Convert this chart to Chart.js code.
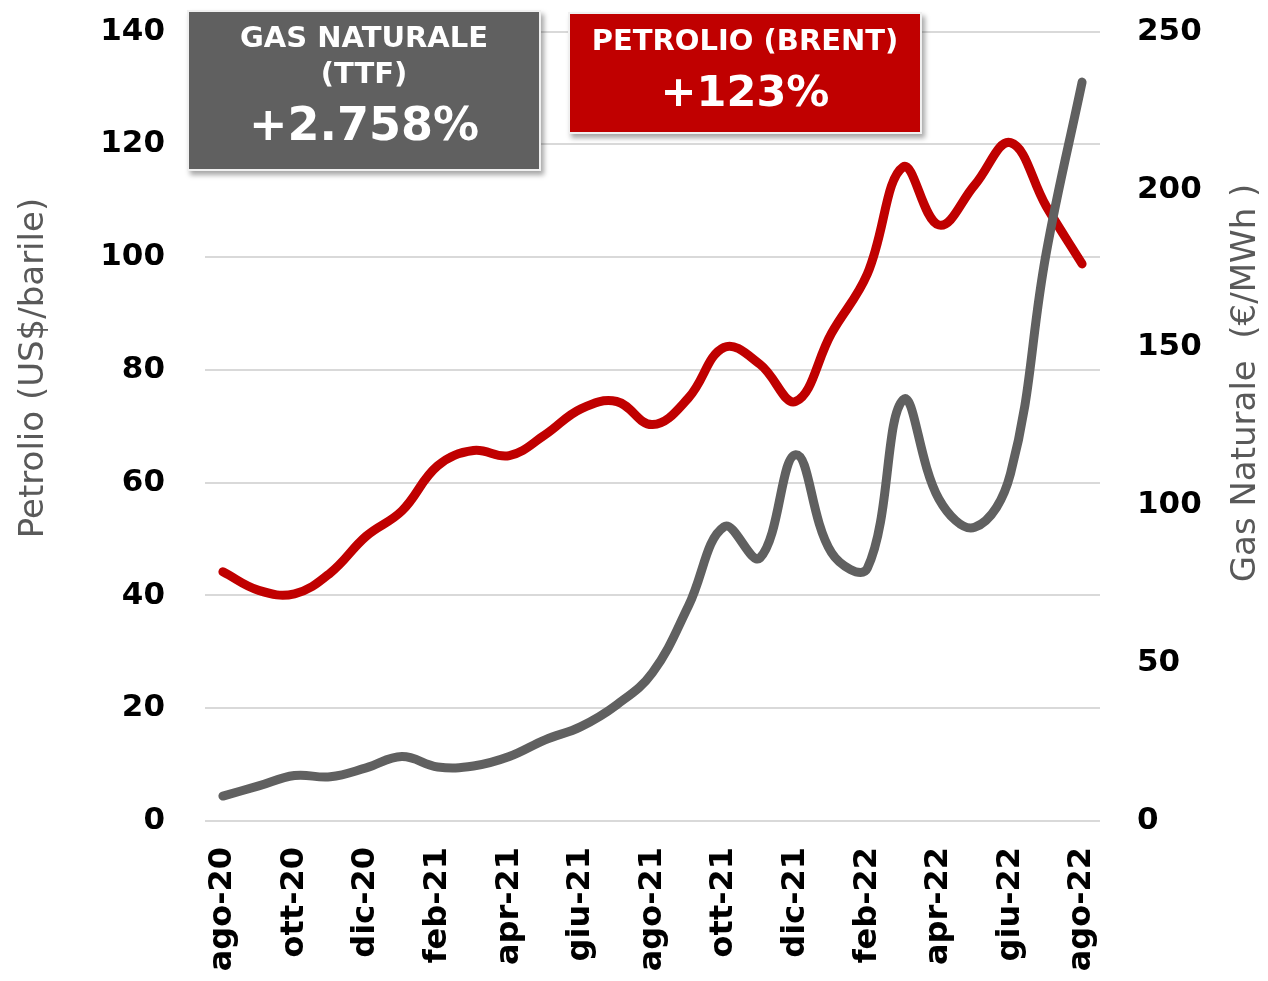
<!DOCTYPE html>
<html>
<head>
<meta charset="utf-8">
<script src="https://cdn.jsdelivr.net/npm/chart.js@4/dist/chart.umd.min.js"></script>
<style>
  html, body { margin: 0; padding: 0; background: #fff; }
  #wrap { position: relative; width: 1268px; height: 981px; }
  .box {
    position: absolute;
    color: #fff;
    font-family: "DejaVu Sans", sans-serif;
    font-weight: bold;
    text-align: center;
    box-shadow: 3px 4px 5px rgba(0,0,0,0.35);
    border: 2px solid #f0f0f0;
    box-sizing: border-box;
  }
  #gasBox { left: 187px; top: 10px; width: 354px; height: 161px; background: #606060; }
  #oilBox { left: 568px; top: 12px; width: 354px; height: 122px; background: #c00000; }
  .box .t { font-size: 29px; line-height: 36px; }
  .box .v { font-size: 46px; line-height: 54px; }
</style>
</head>
<body>
<div id="wrap">
  <canvas id="chart" width="1268" height="981"></canvas>
  <div class="box" id="gasBox">
    <div class="t" style="margin-top:7px">GAS NATURALE</div>
    <div class="t">(TTF)</div>
    <div class="v" style="margin-top:6px">+2.758%</div>
  </div>
  <div class="box" id="oilBox">
    <div class="t" style="margin-top:8px">PETROLIO (BRENT)</div>
    <div class="v" style="margin-top:6px; font-size:43px">+123%</div>
  </div>
</div>
<script>
// Months, ago-20 to ago-22
const months = ['ago-20', 'set-20', 'ott-20', 'nov-20', 'dic-20', 'gen-21', 'feb-21', 'mar-21', 'apr-21',
    'mag-21', 'giu-21', 'lug-21', 'ago-21', 'set-21', 'ott-21', 'nov-21', 'dic-21', 'gen-22', 'feb-22',
    'mar-22', 'apr-22', 'mag-22', 'giu-22', 'lug-22', 'ago-22'];

// Brent, US$/barile (left axis)
const brent = [44.2, 40.9, 40.3, 44.0, 50.5, 55.0, 63.0, 65.7, 64.8, 68.5, 73.1, 74.4, 70.3,
    75.0, 84.0, 81.0, 74.4, 86.5, 97.0, 116.0, 105.7, 112.8, 120.3, 109.0, 98.8];

// TTF, €/MWh (right axis)
const ttf = [7.9, 11.1, 14.4, 14.0, 16.8, 20.4, 17.1, 17.4, 20.4, 25.7, 29.9, 36.8, 47.0,
    68.0, 93.2, 83.3, 116.0, 85.0, 80.0, 133.4, 102.0, 93.0, 110.0, 180.0, 234.0];

const tickFont = { family: 'DejaVu Sans', size: 31, weight: 'bold' };

// axis titles, both reading bottom to top
const axisTitles = {
    id: 'axisTitles',
    afterDraw(chart) {
        const ctx = chart.ctx;
        const put = (text, x, y) => {
            ctx.save();
            ctx.fillStyle = '#595959';
            ctx.font = '34px "DejaVu Sans"';
            ctx.textAlign = 'center';
            ctx.textBaseline = 'middle';
            ctx.translate(x, y);
            ctx.rotate(-Math.PI / 2);
            ctx.fillText(text, 0, 0);
            ctx.restore();
        };
        put('Petrolio (US$/barile)', 34, 368);
        put('Gas Naturale  (€/MWh )', 1246, 383);
    }
};

new Chart(document.getElementById('chart').getContext('2d'), {
    type: 'line',
    data: {
        labels: months,
        datasets: [{
            label: 'Gas Naturale (TTF)',
            data: ttf,
            yAxisID: 'y2',
            borderColor: '#606060',
            borderWidth: 9,
            borderCapStyle: 'round',
            borderJoinStyle: 'round',
            pointRadius: 0,
            tension: 0.4,
            order: 1
        }, {
            label: 'Petrolio (Brent)',
            data: brent,
            yAxisID: 'y',
            borderColor: '#c00000',
            borderWidth: 9,
            borderCapStyle: 'round',
            borderJoinStyle: 'round',
            pointRadius: 0,
            tension: 0.4,
            order: 2
        }]
    },
    options: {
        responsive: false,
        animation: false,
        layout: { padding: 0 },
        plugins: {
            legend: { display: false },
            tooltip: { enabled: false }
        },
        scales: {
            x: {
                offset: true,
                grid: { display: false, drawTicks: false },
                border: { display: false },
                ticks: {
                    autoSkip: false,
                    maxRotation: 90,
                    minRotation: 90,
                    padding: 26,
                    color: '#000',
                    font: { family: 'DejaVu Sans', size: 32, weight: 'bold' },
                    callback: (v, i) => (i % 2 === 0 ? months[i] : '')
                },
                afterFit: (s) => { s.height = 160; }
            },
            y: {
                position: 'left',
                min: 0,
                max: 140,
                ticks: { stepSize: 20, padding: 13, color: '#000', font: tickFont },
                grid: { color: '#d9d9d9', lineWidth: 2, tickLength: 27, tickColor: 'rgba(0,0,0,0)' },
                border: { display: false },
                afterFit: (s) => { s.width = 205; }
            },
            y2: {
                position: 'right',
                min: 0,
                max: 250,
                ticks: { stepSize: 50, padding: 13, color: '#000', font: tickFont },
                grid: { drawOnChartArea: false, tickLength: 24, tickColor: 'rgba(0,0,0,0)' },
                border: { display: false },
                afterFit: (s) => { s.width = 168; }
            }
        }
    },
    plugins: [axisTitles]
});
</script>
</body>
</html>
